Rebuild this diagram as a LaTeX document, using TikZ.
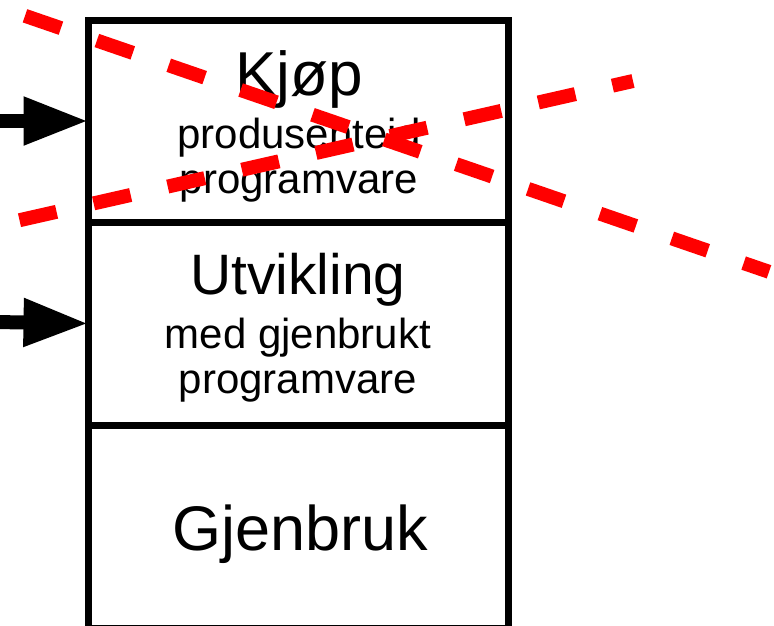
\documentclass[tikz,border=0pt]{standalone}
\usepackage{fontspec}
\setmainfont{Liberation Sans}
\usetikzlibrary{arrows.meta,positioning}

\tikzset{
  boks/.style={draw,line width=7pt,minimum width=419.5pt,inner sep=0pt,outer sep=0pt},
  tittel/.style={anchor=base,font=\fontsize{62}{70}\selectfont},
  undertekst/.style={anchor=base,font=\fontsize{42}{48}\selectfont},
  pil/.style={line width=14pt,-{Triangle[length=65pt,width=45pt]}},
  rodstrek/.style={red,line width=14pt,dash pattern=on 38pt off 38pt}
}

\begin{document}
\begin{tikzpicture}[x=1pt,y=-1pt]
	\useasboundingbox (0,0) rectangle (774,625);
	% Boksene
	\node[boks,minimum height=202pt] (kjop) at (298.25,121) {};
	\node[boks,minimum height=203pt,below=0pt of kjop] (utvikling) {};
	\node[boks,minimum height=203pt,below=0pt of utvikling] (gjenbruk) {};
	% Tekst
	\node[tittel] (kjopTxt) at (299,95) {Kjøp};
	\node[undertekst] (kjopSub1) at (299,148) {produsenteid};
	\node[undertekst] (kjopSub2) at (299,193) {programvare};
	\node[tittel,font=\fontsize{57}{64}\selectfont] (utvTxt) at (298,294) {Utvikling};
	\node[undertekst] (utvSub1) at (298,348) {med gjenbrukt};
	\node[undertekst] (utvSub2) at (298,393) {programvare};
	\node[tittel,font=\fontsize{63}{70}\selectfont] (gjenTxt) at (300,550) {Gjenbruk};
	% Piler inn fra venstre
	\coordinate (innKjop) at (-5,121);
	\coordinate (innUtv) at (-5,322);
	\draw[pil] (innKjop) -- (kjop.west);
	\draw[pil] (innUtv) -- (utvikling.west);
	% Roede stiplede linjer
	\draw[rodstrek] (25,15.8) -- (769,271.8);
	\draw[rodstrek] (19.5,220.2) -- (633,81);
\end{tikzpicture}
\end{document}
